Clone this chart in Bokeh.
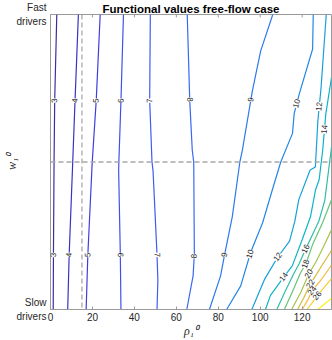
import math
from bokeh.plotting import figure
from bokeh.models import ColumnDataSource, LabelSet, Span, FixedTicker, Range1d
from bokeh.core.properties import value
from bokeh.embed import file_html
from bokeh.resources import INLINE

# ---------------- data ----------------
title_text = "Functional values free-flow case"
x_ticks = [0, 20, 40, 60, 80, 100, 120]
x_min, x_max = 0, 134
y_min, y_max = 0, 1
y_top_label = ["Fast", "drivers"]
y_bottom_label = ["Slow", "drivers"]
x_label = "\u03c1\u2081\u2070"
y_label = "w\u2081\u2070"
rho_ref = 15.0
w_ref = 0.5

levels = [3, 4, 5, 6, 7, 8, 9, 10, 12, 14, 16, 18, 20, 22, 24, 26, 28]

rho_3 = [3.0, 2.0, 1.7, 1.4, 1.3]
w_3 = [1.0, 0.708, 0.5, 0.18, 0.0]
rho_4 = [13.3, 11.7, 10.6, 8.9, 8.2]
w_4 = [1.0, 0.708, 0.5, 0.185, 0.0]
rho_5 = [23.7, 21.8, 19.9, 17.8, 17.0]
w_5 = [1.0, 0.708, 0.5, 0.185, 0.0]
rho_6 = [34.8, 33.6, 32.6, 32.5, 33.3, 33.6]
w_6 = [1.0, 0.708, 0.5, 0.47, 0.185, 0.0]
rho_7 = [47.6, 47.3, 48.4, 48.9, 50.8, 51.2, 50.8]
w_7 = [1.0, 0.708, 0.5, 0.47, 0.185, 0.1, 0.0]
rho_8 = [65.2, 66.4, 67.6, 68.3, 68.6, 68.0, 65.0]
w_8 = [1.0, 0.708, 0.54, 0.5, 0.188, 0.114, 0.0]
rho_9 = [106.0, 100.2, 96.3, 91.5, 90.3, 86.7, 83.0, 81.1, 75.8]
w_9 = [1.0, 0.876, 0.742, 0.54, 0.5, 0.315, 0.185, 0.114, 0.0]
rho_10 = [125.3, 125.0, 118.6, 116.2, 115.4, 109.8, 105.8, 101.2, 95.5, 90.7, 84.0]
w_10 = [1.0, 0.883, 0.73, 0.664, 0.597, 0.5, 0.406, 0.295, 0.195, 0.08, 0.0]
rho_12 = [131.5, 129.0, 127.5, 126.3, 123.8, 118.4, 116.5, 114.0, 108.4, 102.2, 96.0]
w_12 = [1.0, 0.75, 0.64, 0.483, 0.473, 0.3725, 0.299, 0.2315, 0.178, 0.104, 0.0]
rho_14 = [134.0, 131.3, 129.8, 128.1, 126.4, 124.0, 120.1, 115.3, 111.2, 104.9, 102.5]
w_14 = [0.786, 0.664, 0.54, 0.44, 0.406, 0.315, 0.238, 0.148, 0.110, 0.048, 0.0]
rho_16 = [134.0, 130.8, 128.0, 121.7, 118.5, 116.0, 112.5, 107.9]
w_16 = [0.55, 0.37, 0.30, 0.205, 0.154, 0.121, 0.07, 0.0]
rho_18 = [134.0, 129.8, 125.0, 121.7, 119.0, 116.0, 111.5]
w_18 = [0.372, 0.295, 0.22, 0.154, 0.121, 0.07, 0.0]
rho_20 = [134.0, 130.0, 126.5, 123.2, 119.5, 115.0]
w_20 = [0.27, 0.21, 0.16, 0.121, 0.06, 0.0]
rho_22 = [134.0, 129.5, 124.0, 120.8, 117.8]
w_22 = [0.2, 0.15, 0.087, 0.04, 0.0]
rho_24 = [134.0, 129.5, 124.8, 122.5, 120.0]
w_24 = [0.15, 0.105, 0.064, 0.03, 0.0]
rho_26 = [134.0, 130.5, 127.2, 124.5, 122.3]
w_26 = [0.105, 0.075, 0.047, 0.02, 0.0]
rho_28 = [127.5, 130.5, 134.0]
w_28 = [0.0, 0.018, 0.037]

line_colors = ["#3a2da0", "#3733c4", "#3d3fdc", "#4150e8", "#3f5cf0", "#3868f2",
               "#2d78ef", "#2386e6", "#16a0d8", "#0cb4c4", "#2dbea6", "#66c574",
               "#a5c34a", "#d5bb3a", "#f4b83e", "#f8cd30", "#f7f415"]

# inline contour labels: level and w position
lab_level = [3, 4, 5, 6, 7, 8, 9, 10, 12, 14,
             3, 4, 5, 6, 7, 8, 9, 10, 12, 14, 16, 18, 20, 22, 24, 26]
lab_w = [0.708, 0.708, 0.708, 0.708, 0.708, 0.711, 0.711, 0.698, 0.688, 0.611,
         0.185, 0.185, 0.185, 0.185, 0.185, 0.181, 0.185, 0.188, 0.178, 0.110,
         0.205, 0.154, 0.121, 0.087, 0.064, 0.047]

contour_rho = [rho_3, rho_4, rho_5, rho_6, rho_7, rho_8, rho_9, rho_10, rho_12,
               rho_14, rho_16, rho_18, rho_20, rho_22, rho_24, rho_26, rho_28]
contour_w = [w_3, w_4, w_5, w_6, w_7, w_8, w_9, w_10, w_12,
             w_14, w_16, w_18, w_20, w_22, w_24, w_26, w_28]

# ---------------- layout ----------------
W, H = 332, 340
BL, BR, BT, BB = 50, 1, 13, 29
FW, FH = W - BL - BR, H - BT - BB
SX = FW / (x_max - x_min)
SY = FH / (y_max - y_min)
GREY = "#9a9a9a"
TXT = "#262626"

p = figure(width=W, height=H, x_range=Range1d(x_min, x_max), y_range=Range1d(y_min, y_max),
           output_backend="svg", toolbar_location=None, title=title_text,
           min_border_left=BL, min_border_right=BR, min_border_top=BT, min_border_bottom=BB,
           background_fill_color="white", border_fill_color="white",
           outline_line_color=GREY, outline_line_width=1)
p.title.align = "center"
p.title.text_font = "Liberation Sans"
p.title.text_font_size = "11.5px"
p.title.text_font_style = "bold"
p.title.text_color = "black"
p.title.standoff = 0
p.title.offset = 0
p.grid.visible = False

ax = p.xaxis[0]
ax.ticker = FixedTicker(ticks=x_ticks)
ax.axis_line_color = GREY
ax.major_tick_line_color = GREY
ax.major_tick_in = 3
ax.major_tick_out = 0
ax.minor_tick_line_color = None
ax.major_label_text_font = "Liberation Sans"
ax.major_label_text_font_size = "10px"
ax.major_label_text_color = TXT
ax.major_label_standoff = 3
ax.axis_label = x_label
ax.axis_label_text_font = "Liberation Serif"
ax.axis_label_text_font_style = "italic"
ax.axis_label_text_font_size = "12px"
ax.axis_label_text_color = TXT
ax.axis_label_standoff = 0

ay = p.yaxis[0]
ay.ticker = FixedTicker(ticks=[y_min, y_max])
ay.major_label_overrides = {y_min: "\n".join(y_bottom_label), y_max: "\n".join(y_top_label)}
ay.axis_line_color = GREY
ay.major_tick_in = 0
ay.major_tick_out = 0
ay.minor_tick_line_color = None
ay.major_label_orientation = "horizontal"
ay.major_label_text_font = "Liberation Sans"
ay.major_label_text_font_size = "10px"
ay.major_label_text_color = TXT
ay.major_label_standoff = 4
ay.axis_label = y_label
ay.axis_label_text_font = "Liberation Serif"
ay.axis_label_text_font_style = "italic"
ay.axis_label_text_font_size = "12px"
ay.axis_label_text_color = TXT
ay.axis_label_standoff = -6

# inward tick marks on the top edge of the box
tick_len = 3 / SY
p.segment(x0=x_ticks, x1=x_ticks, y0=[y_max] * len(x_ticks),
          y1=[y_max - tick_len] * len(x_ticks), line_color=GREY, line_width=1)

# contour lines
src = ColumnDataSource(dict(xs=contour_rho, ys=contour_w, color=line_colors))
p.multi_line(xs="xs", ys="ys", line_color="color", line_width=1.2, source=src)

# reference dashed lines
p.add_layout(Span(location=rho_ref, dimension="height", line_color="#a8a8a8",
                  line_dash="5 3", line_width=1.3))
p.add_layout(Span(location=w_ref, dimension="width", line_color="#a8a8a8",
                  line_dash="5 3", line_width=1.3))


def pos_on(level, w):
    i = levels.index(level)
    r, ws = contour_rho[i], contour_w[i]
    for k in range(len(ws) - 1):
        w1, w2 = ws[k], ws[k + 1]
        if w1 != w2 and min(w1, w2) <= w <= max(w1, w2):
            t = (w - w1) / (w2 - w1)
            x = r[k] + t * (r[k + 1] - r[k])
            ang = math.atan2((w2 - w1) * SY, (r[k + 1] - r[k]) * SX)
            while ang > math.pi / 2:
                ang -= math.pi
            while ang <= -math.pi / 2:
                ang += math.pi
            return x, ang
    return r[0], 0.0


lx, la = [], []
for lv, lw in zip(lab_level, lab_w):
    xx, aa = pos_on(lv, lw)
    lx.append(xx)
    la.append(aa)

lab_src = ColumnDataSource(dict(x=lx, y=lab_w, text=[str(v) for v in lab_level], angle=la))
p.add_layout(LabelSet(x="x", y="y", text="text", angle="angle", source=lab_src,
                      text_align="center", text_baseline="middle",
                      text_font=value("Liberation Sans"), text_font_size="8px",
                      text_color="#1a1a1a", background_fill_color="white"))

open("out.html", "w").write(file_html(p, INLINE))
